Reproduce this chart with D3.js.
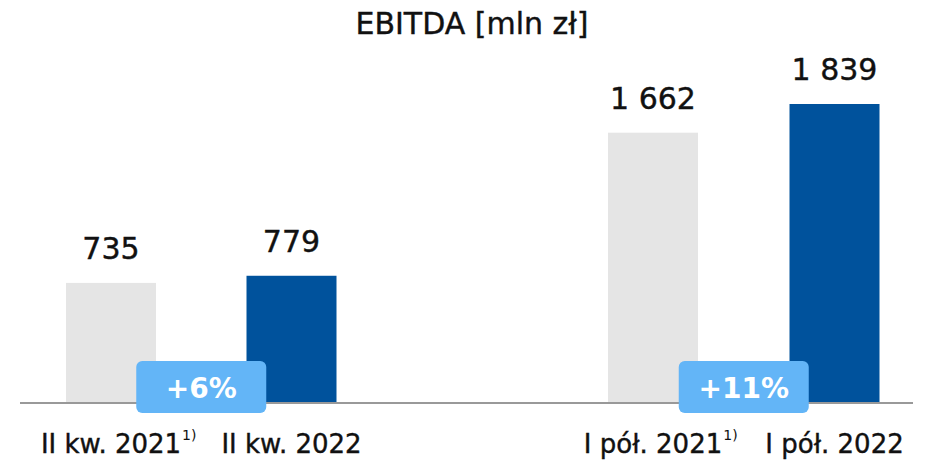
<!DOCTYPE html>
<html><head><meta charset="utf-8">
<script src="https://cdn.jsdelivr.net/npm/d3@7"></script>
<style>html,body{margin:0;padding:0;background:#fff;}svg{display:block;}</style>
</head><body>
<svg id="chart" width="933" height="463"></svg>
<script>
const title = "EBITDA [mln zł]";
const categories = ["II kw. 2021", "II kw. 2022", "I pół. 2021", "I pół. 2022"];
const footnotes = ["1)", "", "1)", ""];
const values = [735, 779, 1662, 1839];
const groups = [0, 0, 1, 1];
const badges = ["+6%", "+11%"];

const svg = d3.select("#chart");
const font = "'DejaVu Sans', 'Noto Sans', sans-serif";
const baseY = 402;
const y = d3.scaleLinear().domain([0, 1839]).range([baseY, 104]);
const barCenters = [111, 291.5, 653, 834.5];
const barW = 90;
const colors = ["#e5e5e5", "#00529c", "#e5e5e5", "#00529c"];
const fmt = d3.formatLocale({decimal: ",", thousands: "\u00a0", grouping: [3], currency: ["", ""]}).format(",d");
const ink = "#111";

function heavy(sel) { return sel.attr("stroke", ink).attr("stroke-width", 0.4); }

// title
heavy(svg.append("text").attr("x", 472).attr("y", 34).attr("text-anchor", "middle")
  .attr("font-family", font).attr("font-size", 30).attr("fill", ink).text(title));

// bars
svg.selectAll("rect.bar").data(values).enter().append("rect").attr("class", "bar")
  .attr("x", (d, i) => barCenters[i] - barW / 2)
  .attr("y", d => y(d))
  .attr("width", barW)
  .attr("height", d => baseY - y(d))
  .attr("fill", (d, i) => colors[i]);

// baseline
svg.append("line").attr("x1", 20).attr("x2", 913).attr("y1", baseY + 1).attr("y2", baseY + 1)
  .attr("stroke", "#999").attr("stroke-width", 2);

// value labels
heavy(svg.selectAll("text.val").data(values).enter().append("text").attr("class", "val")
  .attr("x", (d, i) => barCenters[i]).attr("y", d => y(d) - 24)
  .attr("text-anchor", "middle").attr("font-family", font).attr("font-size", 30)
  .attr("fill", ink).text(d => fmt(d)));

// badges
badges.forEach((b, g) => {
  const idx = groups.map((gg, i) => gg === g ? i : -1).filter(i => i >= 0);
  const cx = (barCenters[idx[0]] + barCenters[idx[1]]) / 2;
  svg.append("rect").attr("x", cx - 65).attr("y", 361).attr("width", 130).attr("height", 52)
    .attr("rx", 6).attr("fill", "#63b5f7");
  svg.append("text").attr("x", cx).attr("y", 398).attr("text-anchor", "middle")
    .attr("font-family", font).attr("font-weight", "bold").attr("font-size", 28)
    .attr("fill", "#fff").text(b);
});

// category labels
categories.forEach((c, i) => {
  const t = heavy(svg.append("text").attr("x", barCenters[i]).attr("y", 453).attr("text-anchor", "middle")
    .attr("font-family", font).attr("font-size", 26).attr("fill", ink).text(c));
  if (footnotes[i]) {
    const w = t.node().getComputedTextLength();
    svg.append("text").attr("x", barCenters[i] + w / 2 + 1).attr("y", 440)
      .attr("font-family", font).attr("font-size", 14).attr("fill", ink).text(footnotes[i]);
  }
});
</script>
</body></html>
